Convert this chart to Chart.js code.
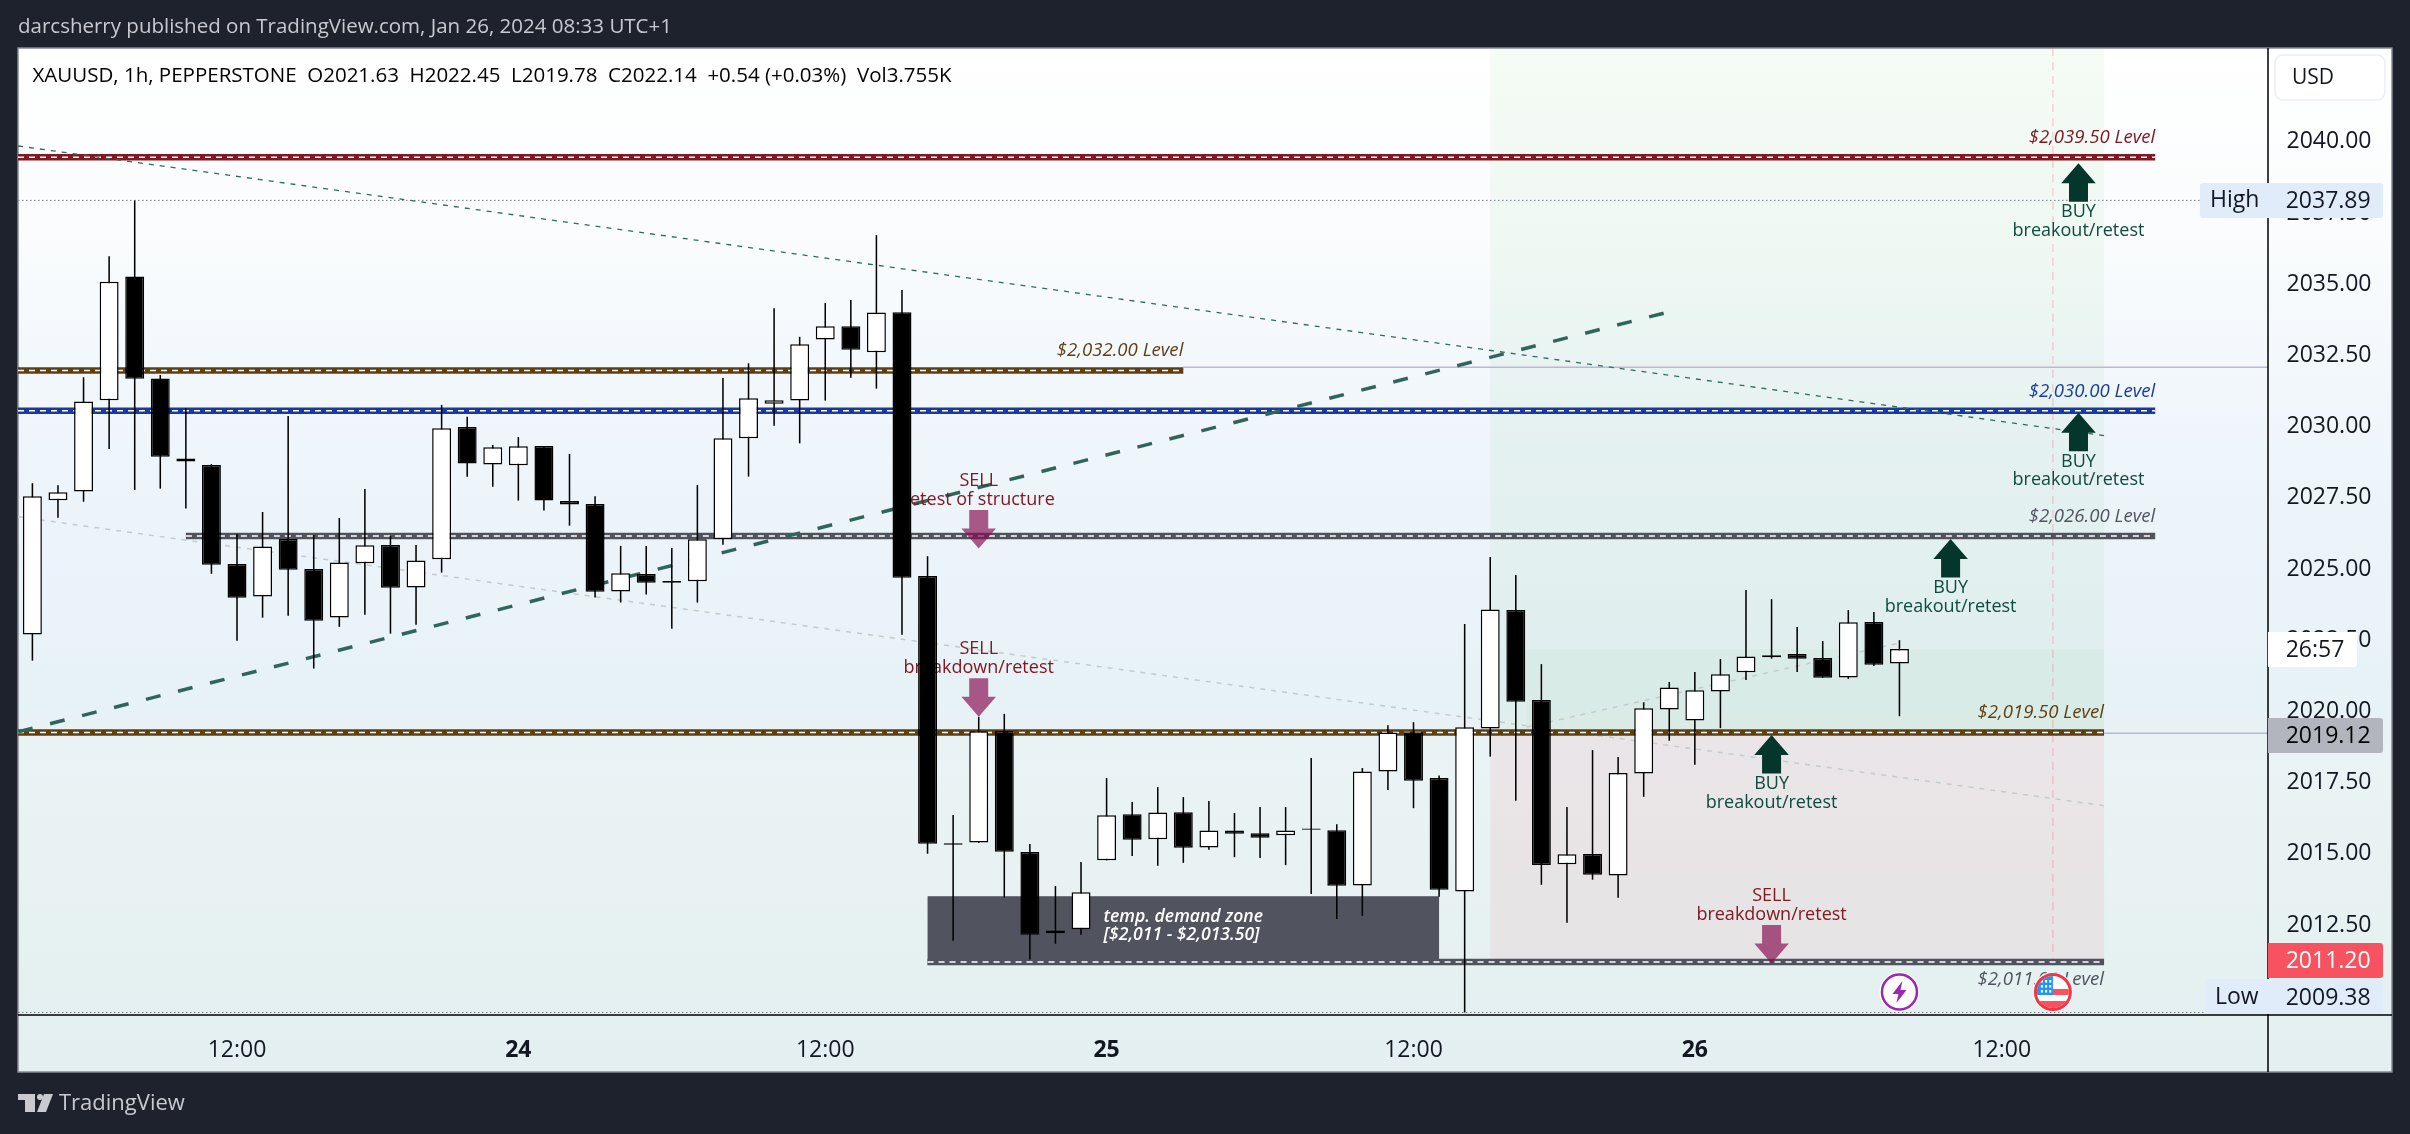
<!DOCTYPE html>
<html>
<head>
<meta charset="utf-8">
<style>html,body{margin:0;padding:0;background:#1e222d}canvas{display:block}</style>
<script src="https://cdn.jsdelivr.net/npm/chart.js@4/dist/chart.umd.min.js"></script>
</head>
<body>
<canvas id="c" width="2410" height="1134"></canvas>
<script>
const opens=[2022.65,2027.36,2027.67,2030.87,2035.22,2031.64,2028.83,2028.60,2025.12,2023.98,
2026.00,2024.95,2023.25,2025.15,2025.79,2024.30,2025.29,2029.93,2028.62,2028.59,
2029.27,2027.34,2027.23,2024.16,2024.77,2024.53,2024.52,2025.99,2029.54,2030.75,
2030.86,2033.01,2033.47,2032.56,2033.96,2024.70,2015.27,2015.35,2019.26,2015.01,
2012.16,2012.30,2014.72,2016.34,2015.46,2016.41,2015.17,2015.77,2015.67,2015.60,
2015.79,2015.78,2013.84,2017.84,2019.22,2017.61,2013.63,2019.35,2023.51,2020.35,
2014.58,2014.94,2014.19,2017.77,2020.02,2019.63,2020.65,2021.32,2021.85,2021.96,
2021.82,2021.14,2023.09,2021.63];
const closes=[2027.50,2027.64,2030.83,2035.03,2031.63,2028.89,2028.72,2025.10,2023.94,2025.74,
2024.92,2023.13,2025.18,2025.78,2024.29,2025.25,2029.89,2028.65,2029.22,2029.26,
2027.35,2027.21,2024.15,2024.80,2024.47,2024.47,2025.99,2029.54,2030.94,2030.87,
2032.84,2033.47,2032.65,2033.95,2024.64,2015.30,2015.32,2019.25,2015.02,2012.11,
2012.26,2013.60,2016.30,2015.44,2016.40,2015.16,2015.77,2015.65,2015.51,2015.77,
2015.84,2013.83,2017.84,2019.21,2017.51,2013.69,2019.39,2023.53,2020.29,2014.56,
2014.93,2014.21,2017.79,2020.06,2020.79,2020.69,2021.25,2021.88,2021.92,2021.80,
2021.13,2023.08,2021.59,2022.14];
const highs=[2027.96,2027.89,2031.68,2035.93,2037.89,2031.76,2030.59,2028.63,2026.18,2026.95,
2030.32,2026.14,2026.74,2027.76,2026.11,2025.79,2030.71,2030.29,2029.30,2029.58,
2029.27,2028.99,2027.50,2025.76,2025.76,2025.69,2027.90,2031.65,2032.17,2034.10,
2033.10,2034.29,2034.39,2036.67,2034.74,2025.40,2016.31,2019.76,2019.86,2015.29,
2013.82,2014.66,2017.61,2016.77,2017.29,2016.94,2016.80,2016.38,2016.59,2016.59,
2018.31,2015.99,2017.96,2019.46,2019.57,2017.70,2023.02,2025.37,2024.74,2021.61,
2016.59,2018.59,2018.35,2020.27,2020.98,2021.33,2021.79,2024.21,2023.89,2022.91,
2022.42,2023.51,2023.44,2022.45];
const lows=[2021.73,2026.75,2027.31,2029.16,2027.72,2027.77,2027.07,2024.78,2022.43,2023.24,
2023.31,2021.45,2022.92,2023.34,2022.68,2022.99,2024.82,2028.19,2027.84,2027.35,
2027.00,2026.47,2023.95,2023.77,2024.05,2022.85,2023.77,2025.80,2028.19,2029.98,
2029.36,2030.86,2031.66,2031.28,2022.64,2014.95,2011.90,2015.33,2013.41,2011.24,
2011.79,2012.11,2014.72,2014.87,2014.53,2014.63,2015.09,2014.83,2014.80,2014.55,
2013.54,2012.66,2012.77,2017.19,2016.55,2013.44,2009.38,2018.36,2016.81,2013.86,
2012.53,2014.04,2013.41,2016.95,2018.92,2018.08,2019.36,2021.05,2021.80,2021.33,
2021.13,2021.09,2021.54,2019.78];

const priceTicks=[2012.5,2015,2017.5,2020,2022.5,2025,2027.5,2030,2032.5,2035,2037.5,2040];
const timeTickIndex=[8,19,31,42,54,65,77];
const timeTickLabels=['12:00','24','12:00','25','12:00','26','12:00'];
const boldTimeLabels=['24','25','26'];

const levelPrices=[2039.40,2031.92,2030.50,2026.11,2019.21,2011.15];
const levelStart=[-0.563,-0.563,-0.563,6,-0.563,35];
const levelEnd=[83,45,83,83,81,81];
const levelLabels=['$2,039.50 Level','$2,032.00 Level','$2,030.00 Level','$2,026.00 Level','$2,019.50 Level','$2,011.00 Level'];
const levelColors=['#801922','#5f3f12','#1b3a9e','#50535e','#5f3f12','#50535e'];

const thickTrendX=[-0.56,63.83];  const thickTrendY=[2019.23,2033.94];
const darkTrendX=[-0.56,81];      const darkTrendY=[2039.80,2029.63];
const paleTrendX=[-0.56,81];      const paleTrendY=[2026.78,2016.64];
const paleRiseX=[58.43,73];       const paleRiseY=[2019.40,2022.35];

const buyIndex=[80,80,75,68];
const buyTip=[2039.19,2030.43,2026.00,2019.12];
const buyNotes=['breakout/retest','breakout/retest','breakout/retest','breakout/retest'];
const sellIndex=[37,37,68];
const sellTip=[2025.67,2019.76,2011.10];
const sellNotes=['retest of structure','breakdown/retest','breakdown/retest'];

const greenZone=[57,81,2043.24,2019.18];
const greenInner=[58.4,81,2022.13,2019.18];
const redZone=[57,81,2019.18,2011.15];
const demandZone=[35,55,2013.46,2011.05];
const demandText=['temp. demand zone','[$2,011 - $2,013.50]'];
const demandTextAnchor=[41.88,2012.72,2012.09];

const highValue=2037.89, lowValue=2009.38, lastClose=2019.12, livePrice=2011.20;
const countdown='26:57';
const purpleLevels=[2032.03,2019.18];
const purpleStart=[45,81];
const calendarIndex=[73,79];
const pageTitle='darcsherry published on TradingView.com, Jan 26, 2024 08:33 UTC+1';
const legendText='XAUUSD, 1h, PEPPERSTONE  O2021.63  H2022.45  L2019.78  C2022.14  +0.54 (+0.03%)  Vol3.755K';

const XMIN=-0.563, XMAX=87.41, YMIN=2009.29, YMAX=2043.24;
const F='"Open Sans", sans-serif';

function xy(xs,ys){return xs.map((x,i)=>({x:x,y:ys[i]}));}
function line(data,color,width,dash,order){
  return {type:'line',data:data,borderColor:color,borderWidth:width,borderDash:dash||[],pointRadius:0,tension:0,fill:false,order:order||10,borderCapStyle:'butt'};
}
const datasets=[];
datasets.push({type:'bar',label:'body',order:1,grouped:false,categoryPercentage:1,barPercentage:0.74,
  data:opens.map((o,i)=>({x:i,y:[o,closes[i]]})),
  backgroundColor:opens.map((o,i)=>closes[i]>=o?'#ffffff':'#000000'),
  borderColor:'#000000',borderWidth:1.5,borderSkipped:false,inflateAmount:0});
datasets.push({type:'bar',label:'wick',order:2,grouped:false,categoryPercentage:1,barPercentage:0.06,
  data:lows.map((l,i)=>({x:i,y:[l,highs[i]]})),backgroundColor:'#000000',borderWidth:0,inflateAmount:0});
purpleLevels.forEach((p,i)=>datasets.push(line([{x:purpleStart[i],y:p},{x:XMAX,y:p}],'#bcb6dc',1.5,[],20)));
datasets.push(line([{x:XMIN,y:highValue},{x:XMAX,y:highValue}],'#787b86',1,[1.5,2.5],20));
datasets.push(line([{x:XMIN,y:lowValue},{x:XMAX,y:lowValue}],'#787b86',1,[1.5,2.5],20));
datasets.push(line([{x:calendarIndex[1],y:YMAX},{x:calendarIndex[1],y:2010.6}],'rgba(242,54,69,0.2)',1.5,[8,6],20));
datasets.push(line(xy(paleTrendX,paleTrendY),'#c3cccd',1.5,[5,6],15));
datasets.push(line(xy(paleRiseX,paleRiseY),'#c3cccd',1.5,[5,6],15));
datasets.push(line(xy(darkTrendX,darkTrendY),'#2f6b5f',1.3,[5,6],9));
datasets.push(line(xy(thickTrendX,thickTrendY),'#2f655c',3.5,[15,18],9));
levelPrices.forEach((p,i)=>{
  const d=[{x:levelStart[i],y:p},{x:levelEnd[i],y:p}];
  datasets.push(line(d,levelColors[i],6.5,[],12));
  datasets.push(line(d,'#ffffff',1.5,[6,5],11));
});

function roundBox(c,x,y,w,h,r,fill,stroke){
  c.beginPath();c.roundRect(x,y,w,h,r);
  if(fill){c.fillStyle=fill;c.fill();}
  if(stroke){c.strokeStyle=stroke;c.lineWidth=1.5;c.stroke();}
}
function text(c,s,x,y,font,color,align){
  c.font=font;c.fillStyle=color;c.textAlign=align||'left';c.textBaseline='middle';c.fillText(s,x,y);
}
function zone(chart,z,color){
  const X=chart.scales.x,Y=chart.scales.y,c=chart.ctx;
  const x0=X.getPixelForValue(z[0]),x1=X.getPixelForValue(z[1]),y0=Y.getPixelForValue(z[2]),y1=Y.getPixelForValue(z[3]);
  c.fillStyle=color;c.fillRect(x0,y0,x1-x0,y1-y0);
}

const tvPlugin={
  id:'tv',
  beforeDraw(chart){
    const c=chart.ctx;
    c.save();
    c.fillStyle='#1e222d';c.fillRect(0,0,2410,1134);
    const g=c.createLinearGradient(0,48,0,1072);
    g.addColorStop(0,'#ffffff');
    g.addColorStop(0.18,'#fafcfd');
    g.addColorStop(0.40,'#eef5fb');
    g.addColorStop(0.62,'#e7f2f7');
    g.addColorStop(0.72,'#eaf3f4');
    g.addColorStop(1,'#e3eff0');
    c.fillStyle=g;c.fillRect(18,48,2374,1024);
    c.strokeStyle='#868993';c.lineWidth=1.5;c.strokeRect(18,48,2374,1024);
    text(c,pageTitle,18,27.5,'400 20.5px '+F,'#c8cad0');
    c.fillStyle='#c8cad0';
    c.fillRect(18,1094,17,6);c.fillRect(25,1100,10,12);
    c.beginPath();c.arc(40,1097,3,0,Math.PI*2);c.fill();
    c.beginPath();c.moveTo(44,1094);c.lineTo(53,1094);c.lineTo(46,1112);c.lineTo(37,1112);c.closePath();c.fill();
    text(c,'TradingView',59,1104,'400 22px '+F,'#c8cad0');
    c.restore();
  },
  beforeDatasetsDraw(chart){
    const c=chart.ctx;c.save();
    zone(chart,greenZone,'rgba(76,175,80,0.055)');
    zone(chart,greenInner,'rgba(76,175,80,0.035)');
    zone(chart,redZone,'rgba(242,54,69,0.07)');
    zone(chart,demandZone,'#51545e');
    c.restore();
  },
  beforeDatasetDraw(chart,args){
    if(chart.data.datasets[args.index].label!=='wick')return;
    const c=chart.ctx,X=chart.scales.x,Y=chart.scales.y;c.save();
    const dx=X.getPixelForValue(demandTextAnchor[0]);
    text(c,demandText[0],dx,Y.getPixelForValue(demandTextAnchor[1]),'italic 600 17.6px '+F,'#ffffff');
    text(c,demandText[1],dx,Y.getPixelForValue(demandTextAnchor[2]),'italic 600 17.6px '+F,'#ffffff');
    levelPrices.forEach((p,i)=>{
      const off=i===levelPrices.length-1?18:-19.5;
      text(c,levelLabels[i],X.getPixelForValue(levelEnd[i]),Y.getPixelForValue(p)+off,'italic 400 18.6px '+F,levelColors[i],'right');
    });
    const fontN='400 18px '+F;
    buyIndex.forEach((ix,i)=>{
      const x=X.getPixelForValue(ix),y=Y.getPixelForValue(buyTip[i]);
      c.fillStyle='#05362c';c.beginPath();
      c.moveTo(x,y);c.lineTo(x+17.3,y+20);c.lineTo(x+9.5,y+20);c.lineTo(x+9.5,y+38.5);c.lineTo(x-9.5,y+38.5);c.lineTo(x-9.5,y+20);c.lineTo(x-17.3,y+20);c.closePath();c.fill();
      text(c,'BUY',x,y+49,fontN,'#0d4b3e','center');
      text(c,buyNotes[i],x,y+67.5,fontN,'#0d4b3e','center');
    });
    sellIndex.forEach((ix,i)=>{
      const x=X.getPixelForValue(ix),y=Y.getPixelForValue(sellTip[i]);
      c.fillStyle='rgba(136,14,79,0.68)';c.beginPath();
      c.moveTo(x,y);c.lineTo(x+17.3,y-20);c.lineTo(x+9.5,y-20);c.lineTo(x+9.5,y-38.5);c.lineTo(x-9.5,y-38.5);c.lineTo(x-9.5,y-20);c.lineTo(x-17.3,y-20);c.closePath();c.fill();
      text(c,sellNotes[i],x,y-49,fontN,'#801922','center');
      text(c,'SELL',x,y-67.5,fontN,'#801922','center');
    });
    c.restore();
  },
  afterDraw(chart){
    const c=chart.ctx,X=chart.scales.x;c.save();
    text(c,legendText,32.5,76,'400 20.5px '+F,'#000000');
    c.strokeStyle='#000000';c.lineWidth=1.5;
    c.beginPath();c.moveTo(2268,48);c.lineTo(2268,1072);c.moveTo(18,1015);c.lineTo(2392,1015);c.stroke();
    const fx=X.getPixelForValue(calendarIndex[0]),fy=992;
    c.beginPath();c.arc(fx,fy,20,0,Math.PI*2);c.fillStyle='#ffffff';c.fill();
    c.beginPath();c.arc(fx,fy,17.5,0,Math.PI*2);c.strokeStyle='#9c27b0';c.lineWidth=2.5;c.stroke();
    c.fillStyle='#9c27b0';c.beginPath();
    c.moveTo(fx+3,fy-11);c.lineTo(fx-7,fy+2);c.lineTo(fx-1,fy+2);c.lineTo(fx-3,fy+11);c.lineTo(fx+7,fy-2);c.lineTo(fx+1,fy-2);c.closePath();c.fill();
    const ux=X.getPixelForValue(calendarIndex[1]);
    c.beginPath();c.arc(ux,fy,20,0,Math.PI*2);c.fillStyle='#ffffff';c.fill();
    c.save();c.beginPath();c.arc(ux,fy,16,0,Math.PI*2);c.clip();
    c.fillStyle='#ffffff';c.fillRect(ux-16,fy-16,32,32);
    c.fillStyle='#f7525f';c.fillRect(ux-1,fy-3,17,6);c.fillRect(ux-16,fy+9,32,7);
    c.fillStyle='#2196f3';c.fillRect(ux-16,fy-16,16,19);
    c.fillStyle='#ffffff';
    for(let a=0;a<3;a++)for(let b=0;b<3;b++){c.fillRect(ux-12+b*4.2,fy-12+a*5,2,2.6);}
    c.restore();
    c.beginPath();c.arc(ux,fy,17.5,0,Math.PI*2);c.strokeStyle='#f23645';c.lineWidth=3;c.stroke();
    roundBox(c,2275,55,110,45,8,'#ffffff','#eceef5');
    text(c,'USD',2292,78,'400 21px '+F,'#131722');
    const PF='400 23px '+F;
    roundBox(c,2268,632,89,35,[0,3,3,0],'#ffffff');
    text(c,countdown,2285.7,650.5,PF,'#131722');
    roundBox(c,2268,718,115,35,[0,3,3,0],'#b2b5be');
    text(c,lastClose.toFixed(2),2285.7,736.5,PF,'#000000');
    roundBox(c,2268,943,115,35,[0,3,3,0],'#f7525f');
    text(c,livePrice.toFixed(2),2285.7,961.5,PF,'#ffffff');
    roundBox(c,2200,183,183,35,3,'#e1ecfb');
    text(c,'High',2210,200.5,PF,'#131722');
    text(c,highValue.toFixed(2),2285.7,201,PF,'#131722');
    roundBox(c,2205,979,178,35,3,'#e1ecfb');
    text(c,'Low',2215,997,PF,'#131722');
    text(c,lowValue.toFixed(2),2285.7,998,PF,'#131722');
    c.restore();
  }
};

new Chart(document.getElementById('c').getContext('2d'),{
  type:'bar',
  data:{datasets:datasets},
  options:{
    responsive:false,devicePixelRatio:1,animation:false,events:[],
    layout:{padding:{left:18,top:48,right:18,bottom:62}},
    plugins:{legend:{display:false},tooltip:{enabled:false},title:{display:false}},
    scales:{
      x:{type:'linear',min:XMIN,max:XMAX,offset:false,grid:{display:false},border:{display:false},
        afterFit(s){s.height=57;},
        afterBuildTicks(s){s.ticks=timeTickIndex.map(v=>({value:v}));},
        ticks:{autoSkip:false,maxRotation:0,minRotation:0,padding:14,color:'#131722',
          font:(ctx)=>{const l=ctx.tick?timeTickLabels[timeTickIndex.indexOf(ctx.tick.value)]:'';
            return {family:F,size:23,weight:boldTimeLabels.includes(l)?'700':'400'};},
          callback:(v)=>timeTickLabels[timeTickIndex.indexOf(v)]}
      },
      y:{type:'linear',position:'right',min:YMIN,max:YMAX,beginAtZero:false,grid:{display:false},border:{display:false},
        afterFit(s){s.width=124;},
        afterBuildTicks(s){s.ticks=priceTicks.map(v=>({value:v}));},
        ticks:{padding:10.5,labelOffset:1.5,autoSkip:false,color:'#131722',font:{family:F,size:23},callback:(v)=>v.toFixed(2)}
      }
    }
  },
  plugins:[tvPlugin]
});
</script>
</body>
</html>
